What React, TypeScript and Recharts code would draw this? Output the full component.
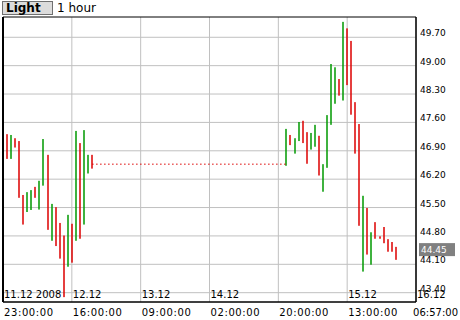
import React from 'react';
import { ComposedChart, Bar, XAxis, YAxis, CartesianGrid, ReferenceLine, ReferenceArea } from 'recharts';

// Hourly high/low bars, "Light" 1 hour, 11.12.2008 23:00 .. 16.12.2008 06:57
const leftStartHour = 0; // 11.12 23:00
const leftHighs = [47.54, 47.31, 47.29, 47.21, 47.14, 45.81, 45.88, 45.93, 46.01, 46.16, 47.19, 46.80, 45.59, 45.51, 45.12, 44.81, 45.32, 45.10, 47.39, 47.09, 47.41, 46.80, 46.80];
const leftLows = [46.85, 46.70, 46.70, 46.98, 45.74, 45.08, 45.39, 45.44, 45.74, 45.45, 46.04, 44.95, 44.68, 44.55, 44.24, 43.29, 44.04, 44.14, 44.68, 44.73, 45.08, 46.34, 46.46];
const leftRising = [0, 0, 1, 0, 0, 0, 1, 1, 0, 1, 1, 0, 1, 0, 0, 0, 1, 0, 1, 0, 1, 1, 0];

const rightStartHour = 70; // 14.12 21:00
const rightHighs = [47.44, 47.29, 47.21, 47.61, 47.64, 47.36, 47.34, 47.54, 47.27, 46.57, 47.78, 49.04, 48.96, 48.67, 50.08, 49.92, 49.61, 48.10, 47.56, 45.79, 45.49, 44.89, 45.14, 44.79, 45.02, 44.72, 44.65, 44.53];
const rightLows = [46.53, 47.04, 46.83, 47.14, 47.09, 46.58, 46.93, 47.00, 46.29, 45.89, 46.48, 47.54, 48.06, 48.26, 48.14, 48.52, 47.79, 46.83, 45.05, 43.92, 44.34, 44.09, 44.73, 44.73, 44.62, 44.41, 44.41, 44.21];
const rightRising = [1, 0, 1, 1, 0, 0, 1, 1, 0, 1, 1, 1, 1, 0, 1, 0, 0, 0, 0, 1, 0, 1, 0, 0, 0, 0, 0, 0];

const gapLevel = 46.57;
const lastPrice = 44.45;

const xTicks = [0, 17, 34, 51, 68, 85, 102];
const dateLabels = ['11.12 2008', '12.12', '13.12', '14.12', '', '15.12', '16.12'];
const timeLabels = ['23:00:00', '16:00:00', '09:00:00', '02:00:00', '20:00:00', '13:00:00', '06:57:00'];
const yTicks = [43.4, 44.1, 44.8, 45.5, 46.2, 46.9, 47.6, 48.3, 49.0, 49.7];
const yDomain = [43.17, 50.2];
const xDomain = [0, 102];

const UP = '#009900';
const DOWN = '#dd0000';
const FONT = 'DejaVu Sans';

type Row = { t: number; range: [number, number]; up: boolean };
const rows: Row[] = [
  ...leftHighs.map((h, i) => ({ t: leftStartHour + i, range: [leftLows[i], h] as [number, number], up: leftRising[i] === 1 })),
  ...rightHighs.map((h, i) => ({ t: rightStartHour + i, range: [rightLows[i], h] as [number, number], up: rightRising[i] === 1 })),
];

const HLShape = (p: any) => {
  const { x, y, width, height, payload } = p;
  const cx = x + width / 2;
  return <rect x={Math.round(cx) - 0.75} y={y} width={1.5} height={Math.max(height, 1)} fill={payload.up ? UP : DOWN} />;
};

const YTick = (p: any) => (
  <text x={p.x + 4} y={p.y - 1} fontSize={9} fontFamily={FONT} fill="#000" textAnchor="start">
    {Number(p.payload.value).toFixed(2)}
  </text>
);

const XTick = (p: any) => {
  const i = xTicks.indexOf(p.payload.value);
  const last = i === xTicks.length - 1;
  return (
    <g>
      <text x={p.x + 1} y={p.y - 4} fontSize={10} fontFamily={FONT} fill="#000" textAnchor="start">
        {dateLabels[i]}
      </text>
      <text
        x={last ? 458 : p.x + 1} y={p.y + 14} fontSize={10} fontFamily={FONT} fill="#000"
        textAnchor={last ? 'end' : 'start'} letterSpacing={last ? 0 : 0.6}
      >
        {timeLabels[i]}
      </text>
    </g>
  );
};

const PriceLabel = (p: any) => {
  const vb = p.viewBox || {};
  const x = vb.x + vb.width + 3;
  const y = vb.y;
  return (
    <g>
      <rect x={x} y={y - 7} width={36} height={13} fill="#808080" />
      <text x={x + 2} y={y + 3} fontSize={9} fontFamily={FONT} fill="#fff">
        {lastPrice.toFixed(2)}
      </text>
    </g>
  );
};

export default function App() {
  return (
    <div style={{ position: 'absolute', left: 0, top: 0, width: 460, height: 320, background: '#fff', overflow: 'hidden' }}>
      <div
        style={{
          position: 'absolute', left: 2, top: 1, width: 46, height: 12, background: '#dcdcdc',
          border: '1px solid #707070', fontFamily: FONT, fontWeight: 'bold', fontSize: 12, lineHeight: '12px', paddingLeft: 3, boxSizing: 'content-box',
        }}
      >
        Light
      </div>
      <div style={{ position: 'absolute', left: 57, top: 1, fontFamily: FONT, fontSize: 12, lineHeight: '14px' }}>1 hour</div>
      <div style={{ position: 'absolute', left: 0, top: 0 }}>
        <ComposedChart width={460} height={320} data={rows} margin={{ top: 17, right: 0, bottom: 0, left: 3 }}>
          <CartesianGrid stroke="#c0c0c0" strokeWidth={1} horizontalValues={yTicks} verticalValues={xTicks} />
          <XAxis
            dataKey="t" type="number" domain={xDomain} ticks={xTicks} allowDataOverflow
            height={18} axisLine={{ stroke: '#000' }} tickLine={false} tickSize={0} tickMargin={0}
            tick={<XTick />} interval={0}
          />
          <YAxis
            orientation="right" type="number" domain={yDomain} ticks={yTicks} allowDataOverflow
            width={44} axisLine={{ stroke: '#000' }} tickLine={false} tickSize={0} tickMargin={0}
            tick={<YTick />} interval={0}
          />
          <ReferenceArea x1={xDomain[0]} x2={xDomain[1]} y1={yDomain[0]} y2={yDomain[1]} fill="none" stroke="#000" strokeWidth={1} />
          <ReferenceLine x={xDomain[0]} stroke="#000" strokeWidth={2} />
          <ReferenceLine
            segment={[{ x: leftStartHour + leftHighs.length - 1, y: gapLevel }, { x: rightStartHour, y: gapLevel }]}
            stroke={DOWN} strokeDasharray="1.5 2.5"
          />
          <Bar dataKey="range" barSize={2} shape={<HLShape />} isAnimationActive={false} />
          <ReferenceLine y={lastPrice} stroke="none" label={<PriceLabel />} />
        </ComposedChart>
      </div>
    </div>
  );
}
